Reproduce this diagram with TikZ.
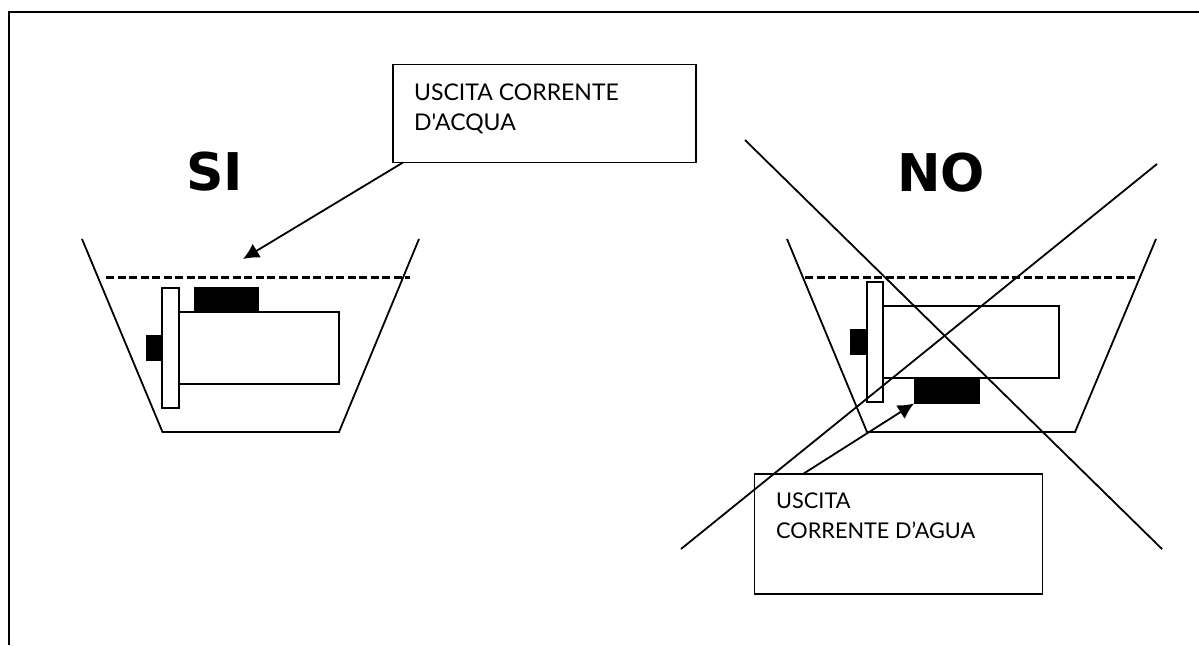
\documentclass[tikz,border=0pt]{standalone}
\usepackage{fontspec}
\newfontfamily\lblfont{Lato}
\newfontfamily\bigfont{DejaVu Sans}
\usetikzlibrary{arrows.meta}
\tikzset{
  ln/.style={line width=1.8pt,black},
  frameln/.style={line width=2.4pt,black},
  part/.style={draw=black,line width=1.8pt,fill=white,inner sep=0pt,outer sep=0pt},
  blk/.style={fill=black,inner sep=0pt,outer sep=0pt},
  lbl/.style={anchor=base west,inner sep=0pt,font=\fontsize{23}{25}\selectfont\lblfont},
  lblb/.style={lbl,font=\fontsize{21.7}{24}\selectfont\lblfont},
  big/.style={anchor=base,inner sep=0pt,font=\fontsize{52}{54}\selectfont\bigfont\bfseries},
  wl/.style={line width=2.4pt,dash pattern=on 8pt off 3.5pt,black},
  arr/.style={line width=1.8pt,black,-{Latex[length=16pt,width=16pt]}}
}
\begin{document}
\begin{tikzpicture}[x=1pt,y=-1pt]
\useasboundingbox[fill=white] (0,0) rectangle (1199,645);
% frame
\coordinate (f1) at (9,645); \coordinate (f2) at (9,12); \coordinate (f3) at (1199,12);
\draw[frameln] (f1) -- (f2) -- (f3);
% SI basin
\coordinate (a1) at (82,239); \coordinate (a2) at (162.5,432); \coordinate (a3) at (339,432); \coordinate (a4) at (419,239);
\draw[ln] (a1) -- (a2) -- (a3) -- (a4);
\coordinate (w1) at (106,277.5); \coordinate (w2) at (410,277.5);
\draw[wl] (w1) -- (w2);
\node[blk,minimum width=65pt,minimum height=25pt] (ablack) at (226.5,299.5) {};
\node[blk,minimum width=18pt,minimum height=26pt] (asmall) at (155,347.5) {};
\node[part,minimum width=160pt,minimum height=72pt] (amotor) at (259,348) {};
\node[part,minimum width=16.5pt,minimum height=120pt] (aflange) at (170.5,348) {};
% SI box
\node[part,minimum width=303pt,minimum height=98pt] (abox) at (544.5,113.5) {};
\node[lbl] (at1) at (414,100) {USCITA CORRENTE};
\node[lbl] (at2) at (414,130) {D'ACQUA};
\coordinate (astart) at (403,162.5); \coordinate (aend) at (243,259);
\draw[arr] (astart) -- (aend);
\node[big] (si) at (214.5,190) {SI};
% NO basin
\coordinate (b1) at (787,239); \coordinate (b2) at (867,432); \coordinate (b3) at (1075,432); \coordinate (b4) at (1156,239);
\draw[ln] (b1) -- (b2) -- (b3) -- (b4);
\coordinate (v1) at (805,277.5); \coordinate (v2) at (1139,277.5);
\draw[wl] (v1) -- (v2);
\node[part,minimum width=176pt,minimum height=72pt] (bmotor) at (971,342) {};
\node[blk,minimum width=17pt,minimum height=26pt] (bsmall) at (858.5,342) {};
\node[part,minimum width=16.5pt,minimum height=120pt] (bflange) at (875,342) {};
\node[blk,minimum width=66pt,minimum height=26pt] (bblack) at (947,390.5) {};
% NO box
\node[part,minimum width=288pt,minimum height=120pt] (bbox) at (898.5,534) {};
\node[lblb] (bt1) at (776,508) {USCITA};
\node[lblb] (bt2) at (776,538) {CORRENTE D’AGUA};
\coordinate (bstart) at (803,474);
\draw[arr] (bstart) -- (bblack.south west);
\node[big] (no) at (941,191.5) {NO};
% cross
\coordinate (c1) at (745,140); \coordinate (c2) at (1162,549); \coordinate (c3) at (1157,164); \coordinate (c4) at (681,549);
\draw[ln] (c1) -- (c2);
\draw[ln] (c3) -- (c4);
\end{tikzpicture}
\end{document}
